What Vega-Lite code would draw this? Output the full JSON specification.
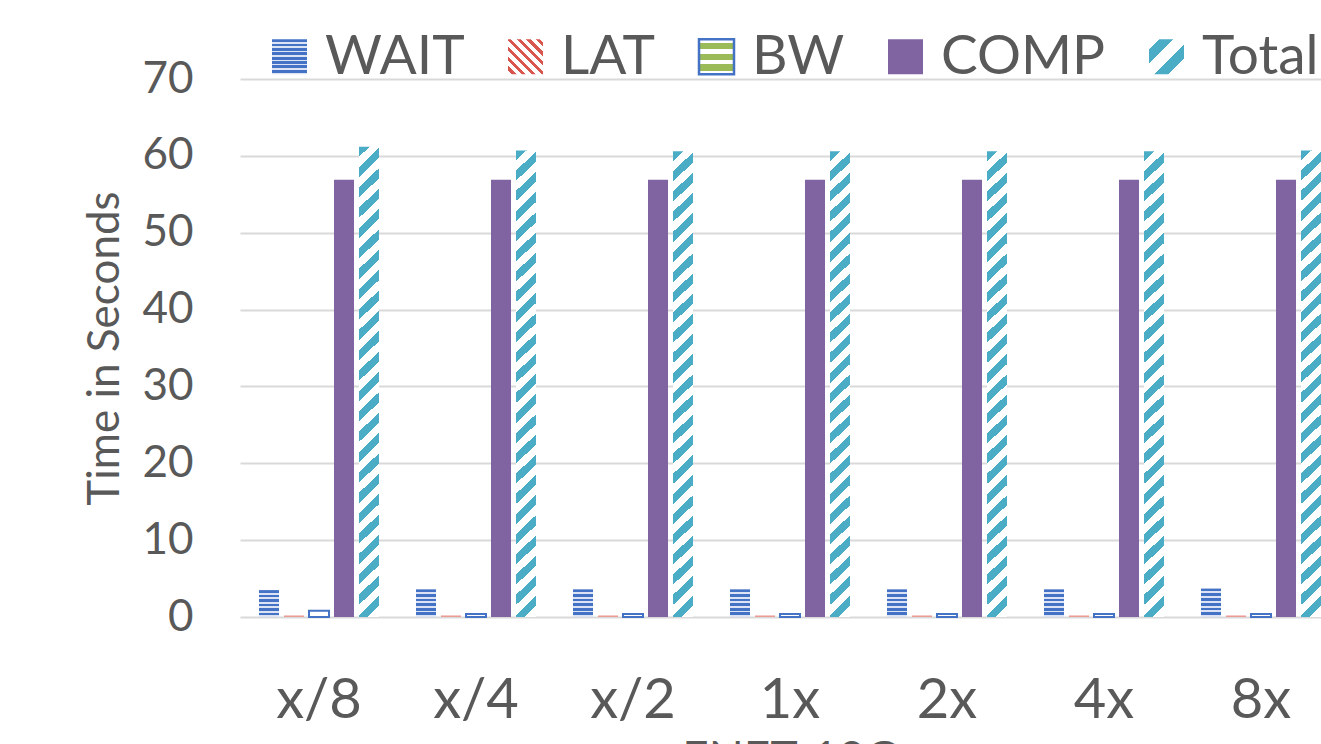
{
  "$schema": "https://vega.github.io/schema/vega-lite/v6.json",
  "width": 1081,
  "height": 538,
  "autosize": {"type": "none"},
  "padding": {"left": 240, "top": 79, "right": 0, "bottom": 127},
  "background": "white",
  "config": {
    "view": {"stroke": null},
    "font": "Lato"
  },
  "data": {
    "values": [
      {"cat": "x/8", "series": "WAIT", "value": 3.5},
      {"cat": "x/8", "series": "LAT", "value": 0.2},
      {"cat": "x/8", "series": "BW", "value": 0.8},
      {"cat": "x/8", "series": "COMP", "value": 56.9},
      {"cat": "x/8", "series": "Total", "value": 61.2},
      {"cat": "x/4", "series": "WAIT", "value": 3.6},
      {"cat": "x/4", "series": "LAT", "value": 0.2},
      {"cat": "x/4", "series": "BW", "value": 0.4},
      {"cat": "x/4", "series": "COMP", "value": 56.9},
      {"cat": "x/4", "series": "Total", "value": 60.7},
      {"cat": "x/2", "series": "WAIT", "value": 3.6},
      {"cat": "x/2", "series": "LAT", "value": 0.2},
      {"cat": "x/2", "series": "BW", "value": 0.4},
      {"cat": "x/2", "series": "COMP", "value": 56.9},
      {"cat": "x/2", "series": "Total", "value": 60.6},
      {"cat": "1x", "series": "WAIT", "value": 3.6},
      {"cat": "1x", "series": "LAT", "value": 0.2},
      {"cat": "1x", "series": "BW", "value": 0.4},
      {"cat": "1x", "series": "COMP", "value": 56.9},
      {"cat": "1x", "series": "Total", "value": 60.6},
      {"cat": "2x", "series": "WAIT", "value": 3.6},
      {"cat": "2x", "series": "LAT", "value": 0.2},
      {"cat": "2x", "series": "BW", "value": 0.4},
      {"cat": "2x", "series": "COMP", "value": 56.9},
      {"cat": "2x", "series": "Total", "value": 60.6},
      {"cat": "4x", "series": "WAIT", "value": 3.6},
      {"cat": "4x", "series": "LAT", "value": 0.2},
      {"cat": "4x", "series": "BW", "value": 0.4},
      {"cat": "4x", "series": "COMP", "value": 56.9},
      {"cat": "4x", "series": "Total", "value": 60.6},
      {"cat": "8x", "series": "WAIT", "value": 3.7},
      {"cat": "8x", "series": "LAT", "value": 0.2},
      {"cat": "8x", "series": "BW", "value": 0.4},
      {"cat": "8x", "series": "COMP", "value": 56.9},
      {"cat": "8x", "series": "Total", "value": 60.7}
    ]
  },
  "layer": [
    {
      "mark": {"type": "bar"},
      "encoding": {
        "x": {
          "field": "cat", "type": "nominal",
          "sort": ["x/8", "x/4", "x/2", "1x", "2x", "4x", "8x"],
          "scale": {"paddingInner": 0.2357, "paddingOuter": 0.0605, "align": 1},
          "axis": {
            "title": "ENET-10G", "labelAngle": 0, "labelFontSize": 56, "labelPadding": 56,
            "labelColor": "#595959", "ticks": false, "domain": false,
            "titleFontSize": 46, "titleFontWeight": "normal", "titleColor": "#595959",
            "titlePadding": 9, "titleX": 550
          }
        },
        "xOffset": {
          "field": "series", "type": "nominal",
          "sort": ["WAIT", "LAT", "BW", "COMP", "Total"],
          "scale": {"paddingInner": 0.2}
        },
        "y": {
          "field": "value", "type": "quantitative",
          "scale": {"domain": [0, 70], "nice": false},
          "axis": {
            "title": "Time in Seconds", "values": [0, 10, 20, 30, 40, 50, 60, 70],
            "labelFontSize": 44, "labelColor": "#595959", "labelPadding": 47,
            "ticks": false, "domain": false, "grid": true, "gridColor": "#d9d9d9", "gridWidth": 2,
            "titleFontSize": 44, "titleFontWeight": "normal", "titleColor": "#595959", "titlePadding": 14
          }
        },
        "fill": {
          "condition": [
            {"test": "datum.series === 'WAIT'", "value": {"gradient": "linear", "x1": 0, "y1": 0, "x2": 0, "y2": 1, "stops": [
              {"offset": 0, "color": "#4472c4"}, {"offset": 0.1, "color": "#4472c4"}, {"offset": 0.1, "color": "#dbe3f4"},
              {"offset": 0.1667, "color": "#dbe3f4"}, {"offset": 0.1667, "color": "#4472c4"}, {"offset": 0.2667, "color": "#4472c4"},
              {"offset": 0.2667, "color": "#dbe3f4"}, {"offset": 0.3333, "color": "#dbe3f4"}, {"offset": 0.3333, "color": "#4472c4"},
              {"offset": 0.4333, "color": "#4472c4"}, {"offset": 0.4333, "color": "#dbe3f4"}, {"offset": 0.5, "color": "#dbe3f4"},
              {"offset": 0.5, "color": "#4472c4"}, {"offset": 0.6, "color": "#4472c4"}, {"offset": 0.6, "color": "#dbe3f4"},
              {"offset": 0.6667, "color": "#dbe3f4"}, {"offset": 0.6667, "color": "#4472c4"}, {"offset": 0.7667, "color": "#4472c4"},
              {"offset": 0.7667, "color": "#dbe3f4"}, {"offset": 0.8333, "color": "#dbe3f4"}, {"offset": 0.8333, "color": "#4472c4"},
              {"offset": 0.9333, "color": "#4472c4"}, {"offset": 0.9333, "color": "#dbe3f4"}, {"offset": 1, "color": "#dbe3f4"}
            ]}},
            {"test": "datum.series === 'LAT'", "value": "#ec9a94"},
            {"test": "datum.series === 'BW'", "value": "#ffffff"},
            {"test": "datum.series === 'Total'", "value": {
              "gradient": "linear", "x1": 0, "y1": 0, "x2": 0.0426, "y2": 1.039,
              "stops": [
                {"offset": 0, "color": "#4bacc6"},
                {"offset": 0.0208, "color": "#4bacc6"}, {"offset": 0.0208, "color": "#ffffff"},
                {"offset": 0.0416, "color": "#ffffff"}, {"offset": 0.0416, "color": "#4bacc6"},
                {"offset": 0.0624, "color": "#4bacc6"}, {"offset": 0.0624, "color": "#ffffff"},
                {"offset": 0.0832, "color": "#ffffff"}, {"offset": 0.0832, "color": "#4bacc6"},
                {"offset": 0.104, "color": "#4bacc6"}, {"offset": 0.104, "color": "#ffffff"},
                {"offset": 0.1248, "color": "#ffffff"}, {"offset": 0.1248, "color": "#4bacc6"},
                {"offset": 0.1456, "color": "#4bacc6"}, {"offset": 0.1456, "color": "#ffffff"},
                {"offset": 0.1664, "color": "#ffffff"}, {"offset": 0.1664, "color": "#4bacc6"},
                {"offset": 0.1872, "color": "#4bacc6"}, {"offset": 0.1872, "color": "#ffffff"},
                {"offset": 0.208, "color": "#ffffff"}, {"offset": 0.208, "color": "#4bacc6"},
                {"offset": 0.2288, "color": "#4bacc6"}, {"offset": 0.2288, "color": "#ffffff"},
                {"offset": 0.2496, "color": "#ffffff"}, {"offset": 0.2496, "color": "#4bacc6"},
                {"offset": 0.2704, "color": "#4bacc6"}, {"offset": 0.2704, "color": "#ffffff"},
                {"offset": 0.2912, "color": "#ffffff"}, {"offset": 0.2912, "color": "#4bacc6"},
                {"offset": 0.312, "color": "#4bacc6"}, {"offset": 0.312, "color": "#ffffff"},
                {"offset": 0.3328, "color": "#ffffff"}, {"offset": 0.3328, "color": "#4bacc6"},
                {"offset": 0.3536, "color": "#4bacc6"}, {"offset": 0.3536, "color": "#ffffff"},
                {"offset": 0.3744, "color": "#ffffff"}, {"offset": 0.3744, "color": "#4bacc6"},
                {"offset": 0.3952, "color": "#4bacc6"}, {"offset": 0.3952, "color": "#ffffff"},
                {"offset": 0.416, "color": "#ffffff"}, {"offset": 0.416, "color": "#4bacc6"},
                {"offset": 0.4368, "color": "#4bacc6"}, {"offset": 0.4368, "color": "#ffffff"},
                {"offset": 0.4576, "color": "#ffffff"}, {"offset": 0.4576, "color": "#4bacc6"},
                {"offset": 0.4784, "color": "#4bacc6"}, {"offset": 0.4784, "color": "#ffffff"},
                {"offset": 0.4992, "color": "#ffffff"}, {"offset": 0.4992, "color": "#4bacc6"},
                {"offset": 0.52, "color": "#4bacc6"}, {"offset": 0.52, "color": "#ffffff"},
                {"offset": 0.5408, "color": "#ffffff"}, {"offset": 0.5408, "color": "#4bacc6"},
                {"offset": 0.5616, "color": "#4bacc6"}, {"offset": 0.5616, "color": "#ffffff"},
                {"offset": 0.5824, "color": "#ffffff"}, {"offset": 0.5824, "color": "#4bacc6"},
                {"offset": 0.6032, "color": "#4bacc6"}, {"offset": 0.6032, "color": "#ffffff"},
                {"offset": 0.624, "color": "#ffffff"}, {"offset": 0.624, "color": "#4bacc6"},
                {"offset": 0.6448, "color": "#4bacc6"}, {"offset": 0.6448, "color": "#ffffff"},
                {"offset": 0.6656, "color": "#ffffff"}, {"offset": 0.6656, "color": "#4bacc6"},
                {"offset": 0.6864, "color": "#4bacc6"}, {"offset": 0.6864, "color": "#ffffff"},
                {"offset": 0.7072, "color": "#ffffff"}, {"offset": 0.7072, "color": "#4bacc6"},
                {"offset": 0.728, "color": "#4bacc6"}, {"offset": 0.728, "color": "#ffffff"},
                {"offset": 0.7488, "color": "#ffffff"}, {"offset": 0.7488, "color": "#4bacc6"},
                {"offset": 0.7696, "color": "#4bacc6"}, {"offset": 0.7696, "color": "#ffffff"},
                {"offset": 0.7904, "color": "#ffffff"}, {"offset": 0.7904, "color": "#4bacc6"},
                {"offset": 0.8112, "color": "#4bacc6"}, {"offset": 0.8112, "color": "#ffffff"},
                {"offset": 0.832, "color": "#ffffff"}, {"offset": 0.832, "color": "#4bacc6"},
                {"offset": 0.8528, "color": "#4bacc6"}, {"offset": 0.8528, "color": "#ffffff"},
                {"offset": 0.8736, "color": "#ffffff"}, {"offset": 0.8736, "color": "#4bacc6"},
                {"offset": 0.8944, "color": "#4bacc6"}, {"offset": 0.8944, "color": "#ffffff"},
                {"offset": 0.9152, "color": "#ffffff"}, {"offset": 0.9152, "color": "#4bacc6"},
                {"offset": 0.936, "color": "#4bacc6"}, {"offset": 0.936, "color": "#ffffff"},
                {"offset": 0.9568, "color": "#ffffff"}, {"offset": 0.9568, "color": "#4bacc6"},
                {"offset": 0.9776, "color": "#4bacc6"}, {"offset": 0.9776, "color": "#ffffff"},
                {"offset": 1, "color": "#ffffff"}
              ]
            }}
          ],
          "value": "#8064a2"
        },
        "stroke": {
          "condition": {"test": "datum.series === 'BW'", "value": "#4472c4"},
          "value": null
        },
        "strokeWidth": {"value": 2}
      }
    },
    {
      "transform": [{"filter": "false"}],
      "mark": {"type": "square", "opacity": 1},
      "encoding": {
        "fill": {
          "field": "series", "type": "nominal",
          "scale": {
            "domain": ["WAIT", "LAT", "BW", "COMP", "Total"],
            "range": [
              {"expr": "{gradient:'linear',x1:0,y1:0,x2:0,y2:1,stops:[{offset:0,color:'#4472c4'},{offset:0.08,color:'#4472c4'},{offset:0.08,color:'#dbe3f4'},{offset:0.125,color:'#dbe3f4'},{offset:0.125,color:'#4472c4'},{offset:0.205,color:'#4472c4'},{offset:0.205,color:'#dbe3f4'},{offset:0.25,color:'#dbe3f4'},{offset:0.25,color:'#4472c4'},{offset:0.33,color:'#4472c4'},{offset:0.33,color:'#dbe3f4'},{offset:0.375,color:'#dbe3f4'},{offset:0.375,color:'#4472c4'},{offset:0.455,color:'#4472c4'},{offset:0.455,color:'#dbe3f4'},{offset:0.5,color:'#dbe3f4'},{offset:0.5,color:'#4472c4'},{offset:0.58,color:'#4472c4'},{offset:0.58,color:'#dbe3f4'},{offset:0.625,color:'#dbe3f4'},{offset:0.625,color:'#4472c4'},{offset:0.705,color:'#4472c4'},{offset:0.705,color:'#dbe3f4'},{offset:0.75,color:'#dbe3f4'},{offset:0.75,color:'#4472c4'},{offset:0.83,color:'#4472c4'},{offset:0.83,color:'#dbe3f4'},{offset:0.875,color:'#dbe3f4'},{offset:0.875,color:'#4472c4'},{offset:0.955,color:'#4472c4'},{offset:0.955,color:'#dbe3f4'},{offset:1,color:'#dbe3f4'}]}"},
              {"expr": "{gradient:'linear',x1:0,y1:1,x2:1,y2:0,stops:[{offset:0,color:'#ffffff'},{offset:0.06,color:'#ffffff'},{offset:0.06,color:'#d9564f'},{offset:0.12,color:'#d9564f'},{offset:0.12,color:'#ffffff'},{offset:0.2,color:'#ffffff'},{offset:0.2,color:'#d9564f'},{offset:0.26,color:'#d9564f'},{offset:0.26,color:'#ffffff'},{offset:0.34,color:'#ffffff'},{offset:0.34,color:'#d9564f'},{offset:0.4,color:'#d9564f'},{offset:0.4,color:'#ffffff'},{offset:0.48,color:'#ffffff'},{offset:0.48,color:'#d9564f'},{offset:0.54,color:'#d9564f'},{offset:0.54,color:'#ffffff'},{offset:0.62,color:'#ffffff'},{offset:0.62,color:'#d9564f'},{offset:0.68,color:'#d9564f'},{offset:0.68,color:'#ffffff'},{offset:0.76,color:'#ffffff'},{offset:0.76,color:'#d9564f'},{offset:0.82,color:'#d9564f'},{offset:0.82,color:'#ffffff'},{offset:0.9,color:'#ffffff'},{offset:0.9,color:'#d9564f'},{offset:0.96,color:'#d9564f'},{offset:0.96,color:'#ffffff'},{offset:1,color:'#ffffff'}]}"},
              {"expr": "{gradient:'linear',x1:0,y1:0,x2:0,y2:1,stops:[{offset:0,color:'#ffffff'},{offset:0.1,color:'#ffffff'},{offset:0.1,color:'#9bbb59'},{offset:0.28,color:'#9bbb59'},{offset:0.28,color:'#ffffff'},{offset:0.41,color:'#ffffff'},{offset:0.41,color:'#9bbb59'},{offset:0.59,color:'#9bbb59'},{offset:0.59,color:'#ffffff'},{offset:0.72,color:'#ffffff'},{offset:0.72,color:'#9bbb59'},{offset:0.9,color:'#9bbb59'},{offset:0.9,color:'#ffffff'},{offset:1,color:'#ffffff'}]}"},
              "#8064a2",
              {"expr": "{gradient:'linear',x1:0,y1:0,x2:1,y2:1,stops:[{offset:0,color:'#ffffff'},{offset:0.14,color:'#ffffff'},{offset:0.14,color:'#4bacc6'},{offset:0.34,color:'#4bacc6'},{offset:0.34,color:'#ffffff'},{offset:0.58,color:'#ffffff'},{offset:0.58,color:'#4bacc6'},{offset:0.78,color:'#4bacc6'},{offset:0.78,color:'#ffffff'},{offset:1,color:'#ffffff'}]}"}
            ]
          },
          "legend": {
            "orient": "none", "legendX": 22, "legendY": -50, "direction": "horizontal",
            "title": null, "symbolType": "square", "symbolSize": 1225, "symbolStrokeWidth": 2.5,
            "symbolOpacity": 1,
            "labelFont": "Lato", "labelFontSize": 55, "labelColor": "#595959", "labelLimit": 0,
            "labelOffset": 8, "columnPadding": 33, "padding": 0
          }
        },
        "stroke": {
          "field": "series", "type": "nominal",
          "scale": {
            "domain": ["WAIT", "LAT", "BW", "COMP", "Total"],
            "range": ["transparent", "transparent", "#4472c4", "transparent", "transparent"]
          },
          "legend": {
            "orient": "none", "legendX": 22, "legendY": -50, "direction": "horizontal",
            "title": null, "symbolType": "square", "symbolSize": 1225, "symbolStrokeWidth": 2.5,
            "symbolOpacity": 1,
            "labelFont": "Lato", "labelFontSize": 55, "labelColor": "#595959", "labelLimit": 0,
            "labelOffset": 8, "columnPadding": 33, "padding": 0
          }
        }
      }
    }
  ]
}
